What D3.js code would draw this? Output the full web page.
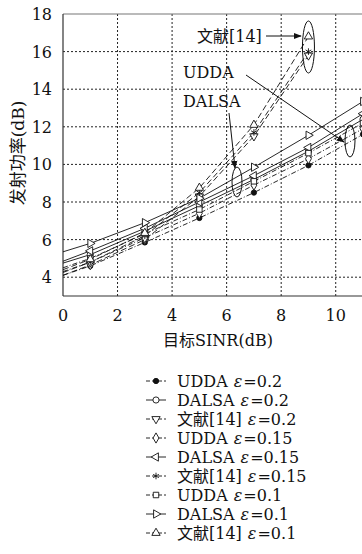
<!DOCTYPE html>
<html>
<head>
<meta charset="utf-8">
<script src="https://cdn.jsdelivr.net/npm/d3@7"></script>
<style>
body { margin: 0; background: #fff; }
text { fill: #111; }
</style>
</head>
<body>
<svg id="chart" width="362" height="554"></svg>
<script>
// target SINR points (dB)
const snr = [0, 1, 3, 5, 7, 9, 11]
const snrRef = [0, 1, 3, 5, 7, 9]

// transmit power (dB)
const udda02 = [4.1, 4.6, 5.85, 7.15, 8.5, 9.95, 11.6]
const dalsa02 = [4.75, 5.2, 6.45, 7.8, 9.2, 10.7, 12.4]
const ref02 = [4.1, 4.65, 6.0, 8.3, 11.5, 15.8]
const udda015 = [4.3, 4.8, 6.1, 7.4, 8.9, 10.3, 11.9]
const dalsa015 = [4.85, 5.4, 6.6, 8.0, 9.4, 10.9, 12.7]
const ref015 = [4.25, 4.8, 6.2, 8.5, 11.7, 16.0]
const udda01 = [4.5, 5.0, 6.3, 7.6, 9.1, 10.6, 12.2]
const dalsa01 = [5.35, 5.8, 6.9, 8.2, 9.85, 11.55, 13.35]
const ref01 = [4.4, 4.95, 6.35, 8.75, 12.1, 16.8]

const xTicks = [0, 2, 4, 6, 8, 10]
const yTicks = [4, 6, 8, 10, 12, 14, 16, 18]

const series = [
    {name: "UDDA", eps: "0.2", x: snr, y: udda02, dash: "5,2,1,2", mark: "dot"},
    {name: "DALSA", eps: "0.2", x: snr, y: dalsa02, dash: null, mark: "circle"},
    {name: "文献[14]", eps: "0.2", x: snrRef, y: ref02, dash: "6,3", mark: "tri-down"},
    {name: "UDDA", eps: "0.15", x: snr, y: udda015, dash: "5,2,1,2", mark: "diamond"},
    {name: "DALSA", eps: "0.15", x: snr, y: dalsa015, dash: null, mark: "tri-left"},
    {name: "文献[14]", eps: "0.15", x: snrRef, y: ref015, dash: "6,3", mark: "star"},
    {name: "UDDA", eps: "0.1", x: snr, y: udda01, dash: "5,2,1,2", mark: "square"},
    {name: "DALSA", eps: "0.1", x: snr, y: dalsa01, dash: null, mark: "tri-right"},
    {name: "文献[14]", eps: "0.1", x: snrRef, y: ref01, dash: "6,3", mark: "tri-up"}
]

const serif = "'DejaVu Serif', 'Noto Sans CJK SC', serif"

let svg = d3.select("#chart")
let pLeft = 63, pRight = 363, pTop = 14, pBottom = 296

let xScale = d3.scaleLinear().domain([0, 11]).range([pLeft, pRight])
let yScale = d3.scaleLinear().domain([3, 18]).range([pBottom, pTop])

svg.append("defs").append("clipPath").attr("id", "plot-clip")
    .append("rect")
    .attr("x", pLeft).attr("y", pTop)
    .attr("width", pRight - pLeft).attr("height", pBottom - pTop)

// grid
let grid = svg.append("g")
grid.selectAll(".gx").data(xTicks.filter(d => d > 0))
    .join("line")
    .attr("x1", d => xScale(d)).attr("x2", d => xScale(d))
    .attr("y1", pTop).attr("y2", pBottom)
    .style("stroke", "#222").style("stroke-width", 1)
    .style("stroke-dasharray", "2,2")
grid.selectAll(".gy").data(yTicks.filter(d => d < 18))
    .join("line")
    .attr("x1", pLeft).attr("x2", pRight)
    .attr("y1", d => yScale(d)).attr("y2", d => yScale(d))
    .style("stroke", "#222").style("stroke-width", 1)
    .style("stroke-dasharray", "2,2")

// frame
svg.append("line").attr("x1", pLeft).attr("x2", pRight).attr("y1", pTop).attr("y2", pTop)
    .style("stroke", "#777").style("stroke-width", 1.2)
svg.append("line").attr("x1", pLeft).attr("x2", pLeft).attr("y1", pTop).attr("y2", pBottom)
    .style("stroke", "#333").style("stroke-width", 1.2)
svg.append("line").attr("x1", pLeft).attr("x2", pRight).attr("y1", pBottom).attr("y2", pBottom)
    .style("stroke", "#333").style("stroke-width", 1.2)

// tick labels
svg.append("g").selectAll("text").data(xTicks)
    .join("text")
    .attr("x", d => xScale(d)).attr("y", 321)
    .attr("text-anchor", "middle")
    .style("font-family", serif).style("font-size", "16px")
    .text(d => d)
svg.append("g").selectAll("text").data(yTicks)
    .join("text")
    .attr("x", 52).attr("y", d => yScale(d) + 6)
    .attr("text-anchor", "end")
    .style("font-family", serif).style("font-size", "16px")
    .text(d => d)

// axis titles
svg.append("text")
    .attr("x", 218).attr("y", 346)
    .attr("text-anchor", "middle")
    .style("font-family", serif).style("font-size", "16px")
    .text("目标SINR(dB)")
svg.append("text")
    .attr("transform", "translate(24,153) rotate(-90)")
    .attr("text-anchor", "middle")
    .style("font-family", serif).style("font-size", "17px")
    .text("发射功率(dB)")

// markers
function drawMark(g, kind, cx, cy)
{
    let s = null, rot = 0, fill = "white"
    if (kind == "dot") { s = d3.symbolCircle; fill = "#111" }
    if (kind == "circle") s = d3.symbolCircle
    if (kind == "square") s = d3.symbolSquare
    if (kind == "diamond") s = d3.symbolDiamond
    if (kind == "star") { s = d3.symbolAsterisk; fill = "none" }
    if (kind.startsWith("tri")) s = d3.symbolTriangle
    if (kind == "tri-down") rot = 180
    if (kind == "tri-left") rot = -90
    if (kind == "tri-right") rot = 90
    let size = kind == "dot" ? 22 : 30
    g.append("path")
        .attr("d", d3.symbol().type(s).size(size)())
        .attr("transform", "translate(" + cx + "," + cy + ") rotate(" + rot + ")")
        .style("fill", fill).style("stroke", "#111").style("stroke-width", 0.9)
}

let plot = svg.append("g").attr("clip-path", "url(#plot-clip)")
let line = d3.line().x(d => xScale(d[0])).y(d => yScale(d[1]))

series.forEach(s => {
    let pts = s.x.map((v, i) => [v, s.y[i]])
    plot.append("path")
        .datum(pts)
        .attr("d", line)
        .style("fill", "none").style("stroke", "#111").style("stroke-width", 0.9)
        .style("stroke-dasharray", s.dash)
})
series.forEach(s => {
    s.x.forEach((v, i) => {
        if (v == 0) return
        drawMark(plot, s.mark, xScale(v), yScale(s.y[i]))
    })
})

// annotations
let ann = svg.append("g")
ann.append("defs").append("marker")
    .attr("id", "arrow").attr("viewBox", "0 0 10 10")
    .attr("refX", 9).attr("refY", 5)
    .attr("markerWidth", 8).attr("markerHeight", 8)
    .attr("orient", "auto-start-reverse")
    .append("path").attr("d", "M0,1L10,5L0,9z").style("fill", "#111")

ann.append("text").attr("x", 197).attr("y", 42)
    .style("font-family", serif).style("font-size", "16px").text("文献[14]")
ann.append("line").attr("x1", 266).attr("y1", 36).attr("x2", 301).attr("y2", 36)
    .style("stroke", "#111").style("stroke-width", 1).attr("marker-end", "url(#arrow)")
ann.append("ellipse").attr("cx", xScale(9)).attr("cy", 47).attr("rx", 6).attr("ry", 26)
    .style("fill", "none").style("stroke", "#111").style("stroke-width", 1)

ann.append("text").attr("x", 183).attr("y", 78)
    .style("font-family", serif).style("font-size", "16px").text("UDDA")
ann.append("line").attr("x1", 246).attr("y1", 75).attr("x2", 344).attr("y2", 142)
    .style("stroke", "#111").style("stroke-width", 1).attr("marker-end", "url(#arrow)")
ann.append("ellipse").attr("cx", 350).attr("cy", 141).attr("rx", 5).attr("ry", 16)
    .style("fill", "none").style("stroke", "#111").style("stroke-width", 1)

ann.append("text").attr("x", 183).attr("y", 107)
    .style("font-family", serif).style("font-size", "16px").text("DALSA")
ann.append("line").attr("x1", 229).attr("y1", 113).attr("x2", 235).attr("y2", 168)
    .style("stroke", "#111").style("stroke-width", 1).attr("marker-end", "url(#arrow)")
ann.append("ellipse").attr("cx", 237).attr("cy", 182).attr("rx", 5).attr("ry", 15)
    .style("fill", "none").style("stroke", "#111").style("stroke-width", 1)

// legend
let legend = svg.append("g")
series.forEach((s, i) => {
    let y = 381 + i * 19
    legend.append("line").attr("x1", 146).attr("x2", 166).attr("y1", y).attr("y2", y)
        .style("stroke", "#111").style("stroke-width", 0.9)
        .style("stroke-dasharray", s.dash ? "4,2" : null)
    drawMark(legend, s.mark, 156, y)
    let t = legend.append("text").attr("x", 177).attr("y", y + 6)
        .style("font-family", serif).style("font-size", "16px")
    t.append("tspan").text(s.name)
    t.append("tspan").attr("dx", 6).style("font-style", "italic").text("ε")
    t.append("tspan").attr("dx", 1).text("=" + s.eps)
})
</script>
</body>
</html>
